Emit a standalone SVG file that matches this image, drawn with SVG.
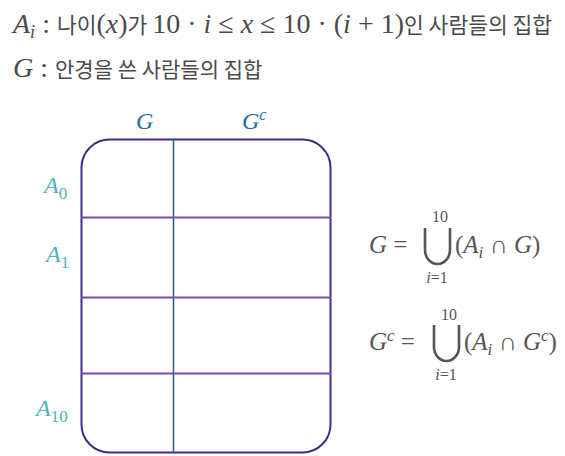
<svg xmlns="http://www.w3.org/2000/svg" width="565" height="456" viewBox="0 0 565 456">
<style>
.m{font-family:"Liberation Serif","DejaVu Serif",serif;fill:#4a4a4a}
.it{font-style:italic}
.k{font-family:"Noto Sans CJK KR","Noto Sans",sans-serif;fill:#4a4a4a}
.lb{font-family:"Liberation Serif",serif;font-style:italic;font-size:24px;fill:#1f6fa3}
.la{font-family:"Liberation Serif",serif;font-size:24px;fill:#4fb3b9}
.f{font-family:"Liberation Serif",serif;font-size:25px;fill:#555}
.sm{font-family:"Liberation Serif",serif;font-size:16px;fill:#555}
</style>
<rect width="565" height="456" fill="#fff"/>
<g id="defs-text">
<text y="33" font-size="28"><tspan x="13" class="m it">A</tspan><tspan class="m it" font-size="18" dy="5">i</tspan><tspan class="m" dy="-5"> :  </tspan><tspan class="k" font-size="21.5">나이</tspan><tspan class="m">(</tspan><tspan class="m it">x</tspan><tspan class="m">)</tspan><tspan class="k" font-size="21.5">가 </tspan><tspan class="m">10 · </tspan><tspan class="m it">i</tspan><tspan class="m"> ≤ </tspan><tspan class="m it">x</tspan><tspan class="m"> ≤ 10 · (</tspan><tspan class="m it">i</tspan><tspan class="m"> + 1)</tspan><tspan class="k" font-size="21.5">인 사람들의 집합</tspan></text>
<text y="77" font-size="28"><tspan x="13" class="m it">G</tspan><tspan class="m"> :  </tspan><tspan class="k" font-size="21">안경을 쓴 사람들의 집합</tspan></text>
</g>
<g id="grid" fill="none">
<rect x="81.5" y="139.5" width="249" height="313" rx="28" ry="28" stroke="#3b2d8e" stroke-width="2"/>
<line x1="173.5" y1="139" x2="173.5" y2="453" stroke="#1f6090" stroke-width="1.5"/>
<line x1="81" y1="217.5" x2="331" y2="217.5" stroke="#7a4aa6" stroke-width="2"/>
<line x1="81" y1="297.5" x2="331" y2="297.5" stroke="#7a4aa6" stroke-width="2"/>
<line x1="81" y1="373.5" x2="331" y2="373.5" stroke="#7a4aa6" stroke-width="2"/>
</g>
<g id="col-labels">
<text class="lb" x="136" y="129">G</text>
<text class="lb" x="242" y="129">G<tspan font-size="16" dy="-9">c</tspan></text>
</g>
<g id="row-labels">
<text class="la" x="44" y="193"><tspan font-style="italic">A</tspan><tspan font-size="17" dy="6">0</tspan></text>
<text class="la" x="46" y="262"><tspan font-style="italic">A</tspan><tspan font-size="17" dy="6">1</tspan></text>
<text class="la" x="36" y="416"><tspan font-style="italic">A</tspan><tspan font-size="17" dy="6">10</tspan></text>
</g>
<g id="formula1">
<text class="f" x="369" y="253"><tspan font-style="italic">G</tspan> =</text>
<text class="sm" x="440" y="222" text-anchor="middle">10</text>
<path d="M425,228 V250 A12.5,14 0 0 0 450,250 V228" fill="none" stroke="#555" stroke-width="2.6"/>
<text class="sm" x="437" y="283" text-anchor="middle"><tspan font-style="italic">i</tspan>=1</text>
<text class="f" x="455" y="253">(<tspan font-style="italic">A</tspan><tspan font-style="italic" font-size="17" dy="5">i</tspan><tspan dy="-5"> ∩ </tspan><tspan font-style="italic">G</tspan>)</text>
</g>
<g id="formula2">
<text class="f" x="369" y="350"><tspan font-style="italic">G</tspan><tspan font-size="17" font-style="italic" dy="-9">c</tspan><tspan dy="9"> =</tspan></text>
<text class="sm" x="449" y="320" text-anchor="middle">10</text>
<path d="M434,325 V347 A12.5,14 0 0 0 459,347 V325" fill="none" stroke="#555" stroke-width="2.6"/>
<text class="sm" x="446" y="380" text-anchor="middle"><tspan font-style="italic">i</tspan>=1</text>
<text class="f" x="464" y="350">(<tspan font-style="italic">A</tspan><tspan font-style="italic" font-size="17" dy="5">i</tspan><tspan dy="-5"> ∩ </tspan><tspan font-style="italic">G</tspan><tspan font-style="italic" font-size="17" dy="-9">c</tspan><tspan dy="9">)</tspan></text>
</g>
</svg>
